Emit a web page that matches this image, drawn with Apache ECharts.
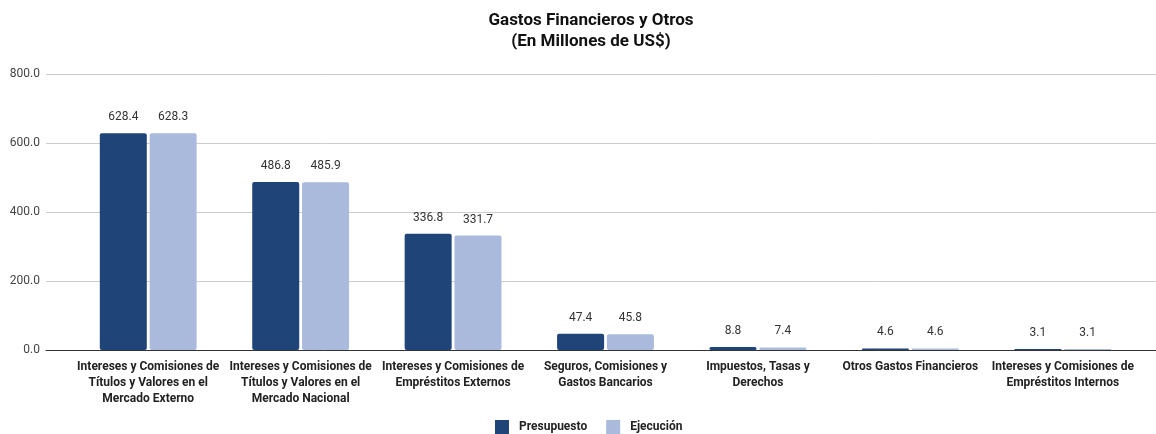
<!DOCTYPE html>
<html><head><meta charset="utf-8">
<script src="https://cdn.jsdelivr.net/npm/echarts@6/dist/echarts.min.js"></script>
<style>html,body{margin:0;padding:0;background:#fff}#c{width:1156px;height:434px}</style>
</head><body><div id="c"></div>
<script>
const categories = [
  "Intereses y Comisiones de\nTítulos y Valores en el\nMercado Externo",
  "Intereses y Comisiones de\nTítulos y Valores en el\nMercado Nacional",
  "Intereses y Comisiones de\nEmpréstitos Externos",
  "Seguros, Comisiones y\nGastos Bancarios",
  "Impuestos, Tasas y\nDerechos",
  "Otros Gastos Financieros",
  "Intereses y Comisiones de\nEmpréstitos Internos"
];
const presupuesto = [628.4, 486.8, 336.8, 47.4, 8.8, 4.6, 3.1];
const ejecucion = [628.3, 485.9, 331.7, 45.8, 7.4, 4.6, 3.1];
const seriesNames = ["Presupuesto", "Ejecución"];
const titleText = "Gastos Financieros y Otros\n(En Millones de US$)";

const FONT = 'Roboto';
const chart = echarts.init(document.getElementById('c'), null, {renderer: 'canvas'});
const labelCfg = {show: true, position: 'top', distance: 10, color: '#333', fontFamily: FONT, fontSize: 12,
  formatter: p => p.value.toFixed(1)};
chart.setOption({
  animation: false,
  textStyle: {fontFamily: FONT},
  title: {text: titleText, left: 586, top: 5, textAlign: 'center',
    textStyle: {fontFamily: FONT, fontSize: 17, fontWeight: 'bold', color: '#111', lineHeight: 21}},
  legend: {bottom: 0, left: 495, padding: 0, itemWidth: 14, itemHeight: 14, itemGap: 19, icon: 'rect',
    textStyle: {fontFamily: FONT, fontSize: 12, fontWeight: 'bold', color: '#222', padding: [0, 0, 0, 5]},
    data: seriesNames},
  grid: [
    {left: 46, right: 0, top: 74, bottom: 84},
    {left: 72, right: 17, top: 74, bottom: 84}
  ],
  xAxis: [
    {gridIndex: 0, type: 'category', data: categories, axisLabel: {show: false}, axisTick: {show: false},
      axisLine: {show: true, lineStyle: {color: '#333', width: 1}}, splitLine: {show: false}},
    {gridIndex: 1, type: 'category', data: categories, axisTick: {show: false}, axisLine: {show: false},
      axisLabel: {interval: 0, fontFamily: FONT, fontSize: 12, fontWeight: 'bold', color: '#222', lineHeight: 16, margin: 9}}
  ],
  yAxis: [
    {gridIndex: 0, type: 'value', min: 0, max: 800, interval: 200,
      axisLabel: {formatter: v => v.toFixed(1), fontFamily: FONT, fontSize: 12, color: '#444', margin: 6},
      splitLine: {lineStyle: {color: '#cccccc'}}, axisLine: {show: false}, axisTick: {show: false}},
    {gridIndex: 1, type: 'value', min: 0, max: 800, interval: 200, show: false, splitLine: {show: false}}
  ],
  series: [
    {name: seriesNames[0], type: 'bar', xAxisIndex: 1, yAxisIndex: 1, data: presupuesto,
      barWidth: 47, barGap: '6%', itemStyle: {color: '#1f4478', borderRadius: 2}, label: labelCfg},
    {name: seriesNames[1], type: 'bar', xAxisIndex: 1, yAxisIndex: 1, data: ejecucion,
      barWidth: 47, barGap: '6%', itemStyle: {color: '#aabadd', borderRadius: 2}, label: labelCfg}
  ]
});
</script></body></html>
